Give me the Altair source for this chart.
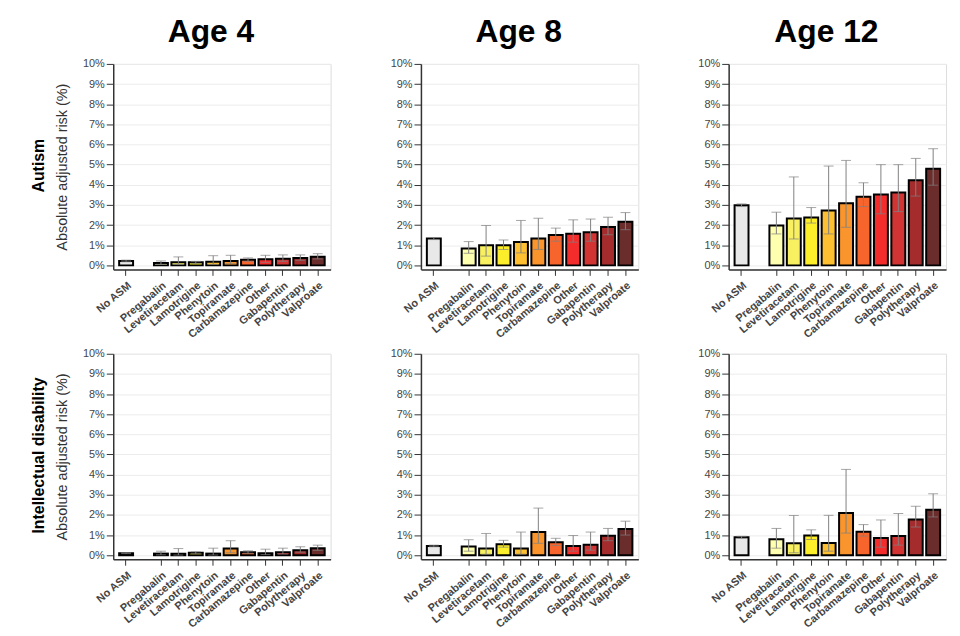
import altair as alt
import pandas as pd

FONT = "Liberation Sans"

drugs = ["No ASM", "Pregabalin", "Levetiracetam", "Lamotrigine", "Phenytoin", "Topiramate",
         "Carbamazepine", "Other", "Gabapentin", "Polytherapy", "Valproate"]
x_domain = ["No ASM", "gap", "Pregabalin", "Levetiracetam", "Lamotrigine", "Phenytoin", "Topiramate",
            "Carbamazepine", "Other", "Gabapentin", "Polytherapy", "Valproate"]
colors = ["#e8e8e8", "#ffffb0", "#f8f060", "#fcee2a", "#fcc032", "#f9952c",
          "#f8652c", "#f42c2c", "#d23434", "#a42c2c", "#6b2c2c"]
y_ticks = [0, 1, 2, 3, 4, 5, 6, 7, 8, 9, 10]

autism_age4_risk = [0.22, 0.12, 0.15, 0.15, 0.18, 0.22, 0.28, 0.30, 0.33, 0.37, 0.43]
autism_age4_lower = [0.18, 0.05, 0.04, 0.10, 0.05, 0.08, 0.20, 0.15, 0.20, 0.25, 0.32]
autism_age4_upper = [0.26, 0.22, 0.42, 0.20, 0.48, 0.50, 0.37, 0.50, 0.52, 0.52, 0.58]

autism_age8_risk = [1.33, 0.84, 1.00, 1.00, 1.16, 1.33, 1.51, 1.57, 1.64, 1.90, 2.16]
autism_age8_lower = [1.28, 0.60, 0.46, 0.79, 0.62, 0.79, 1.20, 1.15, 1.20, 1.52, 1.77]
autism_age8_upper = [1.38, 1.18, 1.98, 1.26, 2.23, 2.34, 1.85, 2.26, 2.30, 2.39, 2.62]

autism_age12_risk = [2.98, 1.98, 2.33, 2.38, 2.72, 3.08, 3.41, 3.52, 3.62, 4.23, 4.80]
autism_age12_lower = [2.92, 1.56, 1.31, 2.10, 1.56, 1.89, 2.92, 2.56, 2.67, 3.44, 3.98]
autism_age12_upper = [3.05, 2.64, 4.39, 2.87, 4.93, 5.21, 4.10, 5.00, 5.00, 5.31, 5.79]

id_age4_risk = [0.10, 0.08, 0.07, 0.12, 0.08, 0.33, 0.15, 0.10, 0.15, 0.25, 0.35]
id_age4_lower = [0.08, 0.02, 0.01, 0.07, 0.01, 0.12, 0.10, 0.03, 0.06, 0.15, 0.24]
id_age4_upper = [0.12, 0.20, 0.33, 0.17, 0.35, 0.72, 0.22, 0.30, 0.35, 0.42, 0.50]

id_age8_risk = [0.46, 0.43, 0.33, 0.54, 0.33, 1.15, 0.64, 0.46, 0.52, 0.97, 1.30]
id_age8_lower = [0.42, 0.20, 0.05, 0.40, 0.05, 0.59, 0.48, 0.20, 0.25, 0.72, 1.00]
id_age8_upper = [0.50, 0.77, 1.08, 0.74, 1.15, 2.34, 0.84, 0.98, 1.15, 1.33, 1.69]

id_age12_risk = [0.89, 0.79, 0.59, 0.98, 0.61, 2.10, 1.16, 0.85, 0.95, 1.77, 2.26]
id_age12_lower = [0.84, 0.35, 0.12, 0.78, 0.20, 1.10, 0.95, 0.40, 0.50, 1.40, 1.90]
id_age12_upper = [0.94, 1.33, 1.97, 1.26, 1.98, 4.26, 1.52, 1.75, 2.07, 2.43, 3.05]

W, H = 219, 207


def make_df(risk, lower, upper):
    return pd.DataFrame({"drug": drugs, "risk": risk, "lower": lower, "upper": upper})


def panel(df, col_title=None, row_label=None):
    first = row_label is not None
    xscale = alt.Scale(domain=x_domain, paddingInner=0.2, paddingOuter=0.34)
    xaxis = alt.Axis(values=drugs, labelAngle=-40, labelFontWeight="bold",
                     labelFontSize=11, labelColor="#444", labelFont=FONT,
                     domainColor="#333", domainWidth=1.5, tickColor="#333",
                     tickSize=6, labelPadding=4, grid=False)
    yscale = alt.Scale(domain=[-0.2, 10], nice=False, zero=False)
    yaxis = alt.Axis(values=y_ticks, labelExpr="datum.value + '%'", labelFontSize=11,
                     labelColor="#444", labelFont=FONT, domainColor="#333", domainWidth=1.5,
                     tickColor="#333", tickSize=7, labelPadding=2, gridColor="#ececec",
                     labelOverlap=False, titleFontSize=14.5, titleFontWeight="normal",
                     titleColor="#333", titleFont=FONT, titlePadding=13)
    ytitle = "Absolute adjusted risk (%)" if first else None

    def X():
        return alt.X("drug:N", scale=xscale, axis=xaxis, title=None)

    def Y(field):
        return alt.Y(field, type="quantitative", scale=yscale, axis=yaxis, title=ytitle)

    base = alt.Chart(df)
    bars = base.mark_bar(stroke="black", strokeWidth=2).encode(
        x=X(),
        y=Y("risk"),
        y2=alt.datum(0),
        color=alt.Color("drug:N", scale=alt.Scale(domain=drugs, range=colors), legend=None),
    )
    rule = base.mark_rule(color="#808080", strokeWidth=1).encode(
        x=X(), y=Y("lower"), y2="upper:Q")
    cap_hi = base.mark_tick(color="#808080", thickness=1, size=10).encode(
        x=X(), y=Y("upper"))
    cap_lo = base.mark_tick(color="#808080", thickness=1, size=10).encode(
        x=X(), y=Y("lower"))
    layers = [bars, rule, cap_hi, cap_lo]
    if first:
        label = alt.Chart(pd.DataFrame({"label": [row_label]})).mark_text(
            angle=270, fontSize=16, fontWeight="bold", font=FONT, color="black",
            baseline="middle", align="center").encode(
            text="label:N", x=alt.value(-75), y=alt.value(H / 2 - 1))
        layers.append(label)
    ch = alt.layer(*layers).properties(width=W, height=H)
    if col_title:
        ch = ch.properties(title=alt.TitleParams(col_title, fontSize=32, fontWeight="bold",
                                                 font=FONT, color="black", dx=-11, offset=9))
    return ch


row1 = alt.hconcat(
    panel(make_df(autism_age4_risk, autism_age4_lower, autism_age4_upper), "Age 4", "Autism"),
    panel(make_df(autism_age8_risk, autism_age8_lower, autism_age8_upper), "Age 8"),
    panel(make_df(autism_age12_risk, autism_age12_lower, autism_age12_upper), "Age 12"),
    spacing=58,
)
row2 = alt.hconcat(
    panel(make_df(id_age4_risk, id_age4_lower, id_age4_upper), None, "Intellectual disability"),
    panel(make_df(id_age8_risk, id_age8_lower, id_age8_upper)),
    panel(make_df(id_age12_risk, id_age12_lower, id_age12_upper)),
    spacing=58,
)

chart = alt.vconcat(row1, row2, spacing=6).properties(
    padding={"left": 22, "top": 5, "right": 5, "bottom": 5}
).configure_view(stroke=None).configure(font=FONT, background="white")

chart.save("out.html", embed_options={"renderer": "svg", "actions": False})
